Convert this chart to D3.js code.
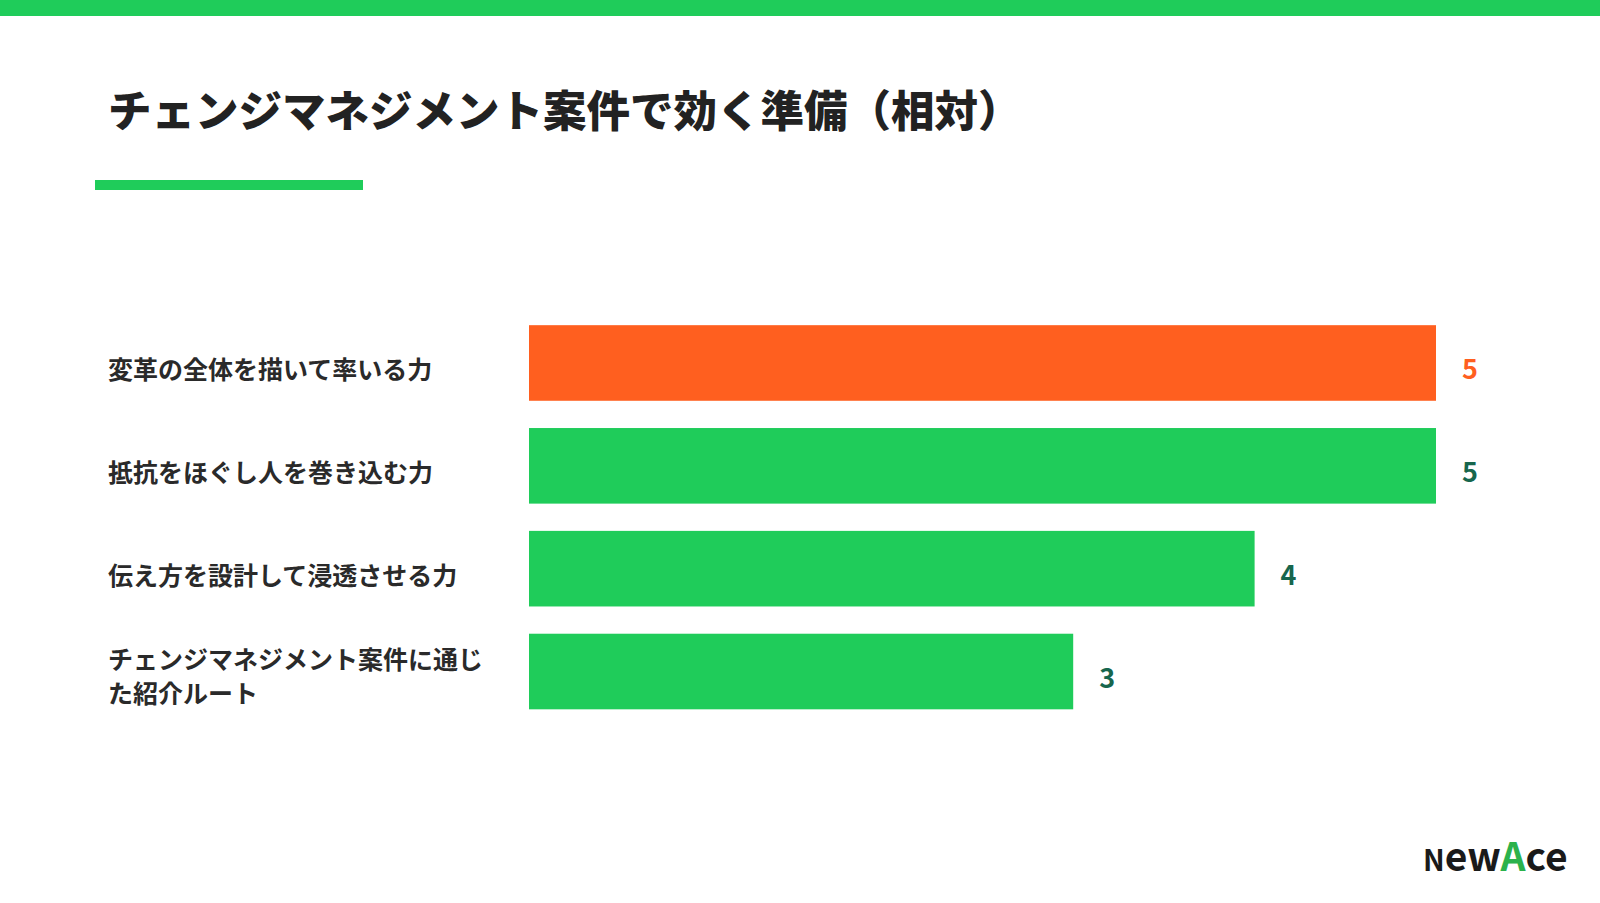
<!DOCTYPE html>
<html><head><meta charset="utf-8">
<script src="https://cdn.jsdelivr.net/npm/d3@7"></script>
<style>
html,body{margin:0;padding:0;background:#fff;}
svg{display:block;}
text{font-family:"Noto Sans CJK JP","Noto Sans",sans-serif;}
</style></head>
<body>
<svg id="chart" width="1600" height="903"></svg>
<script>
const title = "チェンジマネジメント案件で効く準備（相対）";
const categories = [
  "変革の全体を描いて率いる力",
  "抵抗をほぐし人を巻き込む力",
  "伝え方を設計して浸透させる力",
  "チェンジマネジメント案件に通じた紹介ルート"
];
const values = [5, 5, 4, 3];
const highlight = [true, false, false, false];
const maxValue = 5;

const GREEN = "#1fcc5a", ORANGE = "#ff5f1f", DARKGREEN = "#17664d", TEXT = "#2a2a2a";

const svg = d3.select("#chart");
svg.append("rect").attr("x",0).attr("y",0).attr("width",1600).attr("height",16).attr("fill",GREEN);

svg.append("text").attr("x",108).attr("y",127)
  .attr("font-size",43.5).attr("font-weight",900).attr("fill","#222")
  .text(title);
svg.append("rect").attr("x",95).attr("y",180).attr("width",268).attr("height",10).attr("fill",GREEN);

const x = d3.scaleLinear().domain([0, maxValue]).range([529, 1436]);
const y = d3.scaleBand().domain(categories).range([300.5, 734]).paddingInner(0.265).paddingOuter(0.24);

const g = svg.append("g");
g.selectAll("rect.bar").data(categories).join("rect").attr("class","bar")
  .attr("x", x(0)).attr("y", d=>y(d))
  .attr("width", (d,i)=>x(values[i])-x(0)).attr("height", y.bandwidth())
  .attr("fill", (d,i)=>highlight[i]?ORANGE:GREEN);

g.selectAll("text.val").data(categories).join("text").attr("class","val")
  .attr("x", (d,i)=>x(values[i])+26)
  .attr("y", d=>y(d)+y.bandwidth()/2+16.5)
  .attr("font-size",27).attr("font-weight",700)
  .attr("fill",(d,i)=>highlight[i]?ORANGE:DARKGREEN)
  .text((d,i)=>values[i]);

// labels with wrapping
const maxW = 390;
categories.forEach((c)=>{
  const t = g.append("text").attr("x",108).attr("font-size",25).attr("font-weight",700).attr("fill",TEXT);
  const chars = Array.from(c);
  const lines = [];
  let cur = "";
  const probe = t.append("tspan");
  chars.forEach(ch=>{
    probe.text(cur+ch);
    if (probe.node().getComputedTextLength() > maxW && cur.length) { lines.push(cur); cur = ch; }
    else cur = cur+ch;
  });
  lines.push(cur);
  probe.remove();
  const cy = y(c)+y.bandwidth()/2;
  const lh = 34;
  const base = cy + 16 - (lines.length-1)*lh/2 + (lines.length>1?-1.5:0);
  lines.forEach((l,k)=>{
    t.append("tspan").attr("x",108).attr("y",base+k*lh).text(l);
  });
});

// logo
const logo = svg.append("g").attr("transform","translate(1423,871)");
const lt = logo.append("text").attr("font-family","Lato, 'DejaVu Sans', sans-serif").attr("font-weight",700).attr("fill","#1a1a1a");
lt.append("tspan").attr("font-size",29).text("N");
lt.append("tspan").attr("font-size",39).text("ew");
lt.append("tspan").attr("font-size",39).attr("fill","#2bb24c").text("A");
lt.append("tspan").attr("font-size",39).text("ce");
</script>
</body></html>
